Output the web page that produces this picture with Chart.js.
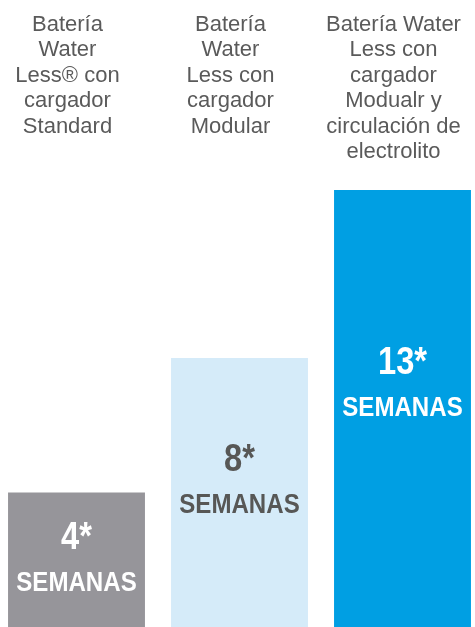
<!DOCTYPE html>
<html>
<head>
<meta charset="utf-8">
<script src="https://cdn.jsdelivr.net/npm/chart.js@4/dist/chart.umd.min.js"></script>
<style>
  html, body { margin: 0; padding: 0; background: #fff; overflow: hidden; }
  #wrap { position: absolute; left: -5px; top: 0; width: 489px; height: 627px; }
</style>
</head>
<body>
<div id="wrap"><canvas id="chart"></canvas></div>
<script>
// data
const categories = [
  ["Batería", "Water", "Less® con", "cargador", "Standard"],
  ["Batería", "Water", "Less con", "cargador", "Modular"],
  ["Batería Water", "Less con", "cargador", "Modualr y", "circulación de", "electrolito"],
];
const weeks = [4, 8, 13];
const unitLabel = "SEMANAS";

const barColors = ["#96959a", "#d5ebf9", "#009fe3"];
const textColors = ["#ffffff", "#575756", "#ffffff"];

// condensed look: squeeze bold Liberation Sans horizontally
function narrowText(ctx, text, x, y, size) {
  ctx.save();
  ctx.translate(x, y);
  ctx.scale(0.86, 1);
  ctx.font = "bold " + size + "px 'Liberation Sans', Arial, sans-serif";
  ctx.fillText(text, 0, 0);
  ctx.restore();
}

const valueLabels = {
  id: "valueLabels",
  afterDatasetsDraw(chart) {
    const ctx = chart.ctx;
    const meta = chart.getDatasetMeta(0);
    ctx.save();
    ctx.textAlign = "center";
    ctx.textBaseline = "alphabetic";
    meta.data.forEach((bar, i) => {
      const h = bar.base - bar.y;
      const numY = bar.y + h * 0.42;
      ctx.fillStyle = textColors[i];
      narrowText(ctx, weeks[i] + "*", bar.x, numY, 38);
      narrowText(ctx, unitLabel, bar.x, numY + 42, 28);
    });
    ctx.restore();
  },
};

new Chart(document.getElementById("chart"), {
  type: "bar",
  data: {
    labels: categories,
    datasets: [{
      data: weeks,
      backgroundColor: barColors,
      borderWidth: 0,
      categoryPercentage: 1,
      barPercentage: 0.84,
    }],
  },
  options: {
    responsive: true,
    maintainAspectRatio: false,
    animation: false,
    layout: { padding: 0 },
    plugins: {
      legend: { display: false },
      tooltip: { enabled: false },
    },
    scales: {
      x: {
        position: "top",
        grid: { display: false, drawTicks: false },
        border: { display: false },
        afterFit(scale) {
          scale.height = 190;
          scale.paddingLeft = 0;
          scale.paddingRight = 0;
        },
        ticks: {
          color: "#5a5a5a",
          crossAlign: "far",
          padding: 25,
          labelOffset: -9,
          maxRotation: 0,
          autoSkip: false,
          font: { family: "'Liberation Sans', Arial, sans-serif", size: 22, lineHeight: "25.5px" },
        },
      },
      y: {
        display: false,
        min: 0,
        max: 13,
      },
    },
  },
  plugins: [valueLabels],
});
</script>
</body>
</html>
